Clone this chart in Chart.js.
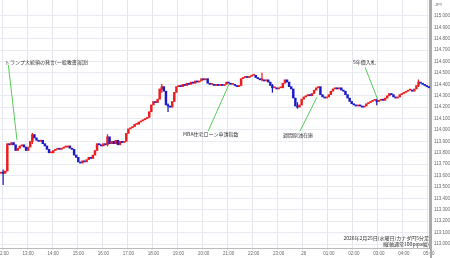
<!DOCTYPE html>
<html lang="ja">
<head>
<meta charset="UTF-8">
<title>カナダ円5分足</title>
<script src="https://cdn.jsdelivr.net/npm/chart.js"></script>
<style>
  body { margin: 0; background: #fff; }
  #wrap { width: 450px; height: 258px; }
</style>
</head>
<body>
<div id="wrap"><canvas id="chart" width="450" height="258"></canvas></div>
<script>
// 5分足の終値 (最初の足は11:55、最後は05:00)
const startMinute = 11 * 60 + 55;
const firstOpen = 113.62;
const closes = [
  113.63,
  113.62, 113.64, 113.88, 113.87, 113.89, 113.87, 113.82, 113.84, 113.86, 113.87, 113.85, 113.82,
  113.85, 113.90, 113.96, 113.93, 113.91, 113.90, 113.91, 113.88, 113.86, 113.83, 113.80, 113.80,
  113.82, 113.83, 113.84, 113.83, 113.84, 113.85, 113.85, 113.86, 113.84, 113.83, 113.78, 113.76,
  113.72, 113.71, 113.73, 113.72, 113.74, 113.76, 113.75, 113.78, 113.82, 113.88, 113.87, 113.86,
  113.88, 113.87, 113.94, 113.88, 113.90, 113.88, 113.91, 113.87, 113.90, 113.89, 113.90, 113.97,
  114.01, 114.02, 114.03, 114.05, 114.05, 114.07, 114.08, 114.09, 114.10, 114.11, 114.16, 114.22,
  114.25, 114.24, 114.27, 114.36, 114.38, 114.34, 114.22, 114.21, 114.20, 114.25, 114.33, 114.38,
  114.39, 114.38, 114.40, 114.39, 114.41, 114.40, 114.42, 114.41, 114.43, 114.42, 114.43, 114.45,
  114.44, 114.45, 114.41, 114.40, 114.40, 114.39, 114.40, 114.39, 114.40, 114.39, 114.40, 114.42,
  114.41, 114.40, 114.40, 114.39, 114.38, 114.39, 114.45, 114.46, 114.47, 114.46, 114.47, 114.48,
  114.48, 114.46, 114.45, 114.44, 114.44, 114.43, 114.44, 114.42, 114.39, 114.37, 114.37, 114.36,
  114.37, 114.37, 114.41, 114.44, 114.42, 114.38, 114.36, 114.28, 114.21, 114.20, 114.22, 114.27,
  114.29, 114.30, 114.31, 114.30, 114.32, 114.35, 114.37, 114.38, 114.31, 114.29, 114.28, 114.29,
  114.31, 114.34, 114.36, 114.37, 114.36, 114.37, 114.35, 114.34, 114.31, 114.28, 114.25, 114.23,
  114.22, 114.21, 114.22, 114.21, 114.20, 114.21, 114.23, 114.24, 114.25, 114.26, 114.26, 114.25,
  114.26, 114.27, 114.26, 114.28, 114.30, 114.32, 114.31, 114.29, 114.28, 114.29, 114.31, 114.32,
  114.33, 114.34, 114.35, 114.35, 114.34, 114.36, 114.39, 114.42, 114.41, 114.40, 114.39, 114.38,
  114.37
];
// ヒゲが見える足: [足の番号, 安値, 高値]
const wicks = [
  [1, 113.52, 113.65], [15, 113.88, 113.97], [51, 113.86, 113.96], [77, 114.33, 114.40],
  [80, 114.16, 114.23], [125, 114.43, 114.50], [130, 114.33, 114.40], [142, 114.19, 114.24],
  [180, 114.22, 114.27], [200, 114.38, 114.44]
];
const hourLabels = ['12:00', '13:00', '14:00', '15:00', '16:00', '17:00', '18:00', '19:00', '20:00',
  '21:00', '22:00', '23:00', '26', '01:00', '02:00', '03:00', '04:00', '05:00'];
const priceTicks = [113.0, 113.1, 113.2, 113.3, 113.4, 113.5, 113.6, 113.7, 113.8, 113.9, 114.0,
  114.1, 114.2, 114.3, 114.4, 114.5, 114.6, 114.7, 114.8, 114.9, 115.0];
// 指標コメント: 文字位置と引き出し線 (足の番号, 価格)
const notes = [
  { text: 'トランプ大統領の発言(一般教書演説)', tx: 1.9, ty: 114.596, x1: 3.5, y1: 114.57, x2: 7.65, y2: 113.91 },
  { text: 'MBA住宅ローン申請指数', tx: 87.2, ty: 113.965, x1: 99.2, y1: 113.99, x2: 109.2, y2: 114.40 },
  { text: '週間原油在庫', tx: 135.1, ty: 113.956, x1: 143.2, y1: 113.99, x2: 151.4, y2: 114.29 },
  { text: '5年債入札', tx: 168.6, ty: 114.596, x1: 174.4, y1: 114.55, x2: 180.6, y2: 114.26 }
];
const footer = ['2026年2月25日(水曜日)カナダ円5分足', '(縦軸通常100pips幅)'];

const labels = closes.map((_, i) => {
  const m = (startMinute + i * 5) % 1440;
  return String(Math.floor(m / 60)).padStart(2, '0') + ':' + String(m % 60).padStart(2, '0');
});
const opens = closes.map((c, i) => i === 0 ? firstOpen : closes[i - 1]);
const bodies = closes.map((c, i) => [opens[i], c]);
const wickData = closes.map(() => null);
wicks.forEach(w => { wickData[w[0]] = [w[1], w[2]]; });

const UP = '#ee1c1c', DOWN = '#1a1ac8';
const candleColor = ctx => closes[ctx.dataIndex] >= opens[ctx.dataIndex] ? UP : DOWN;
const isHour = i => (i - 1) % 12 === 0;
const jp = '"Noto Sans CJK JP", sans-serif';

const overlay = {
  id: 'overlay',
  afterDatasetsDraw(chart) {
    const { ctx, chartArea } = chart;
    const x = chart.scales.x, y = chart.scales.y;
    ctx.save();
    // 右軸の線を下端まで
    ctx.strokeStyle = '#aaaaaa';
    ctx.lineWidth = 2;
    ctx.beginPath();
    ctx.moveTo(chartArea.right + 1, 0);
    ctx.lineTo(chartArea.right + 1, chart.height);
    ctx.stroke();

    ctx.strokeStyle = '#55cc55';
    ctx.lineWidth = 1;
    ctx.fillStyle = '#333';
    ctx.font = '5px ' + jp;
    ctx.textBaseline = 'middle';
    notes.forEach(n => {
      ctx.beginPath();
      ctx.moveTo(x.getPixelForValue(n.x1), y.getPixelForValue(n.y1));
      ctx.lineTo(x.getPixelForValue(n.x2), y.getPixelForValue(n.y2));
      ctx.stroke();
      ctx.fillText(n.text, x.getPixelForValue(n.tx), y.getPixelForValue(n.ty));
    });

    ctx.textAlign = 'right';
    ctx.fillText(footer[0], chartArea.right - 1, chartArea.bottom - 10);
    ctx.fillText(footer[1], chartArea.right - 1, chartArea.bottom - 4);

    ctx.textAlign = 'left';
    ctx.fillStyle = '#666';
    ctx.font = '4px "Liberation Sans", sans-serif';
    ctx.fillText('JPY', chartArea.right + 5, 5);
    ctx.restore();
  }
};

new Chart(document.getElementById('chart'), {
  type: 'bar',
  data: {
    labels: labels,
    datasets: [
      { data: bodies, backgroundColor: candleColor, barThickness: 1.8, minBarLength: 1, grouped: false, order: 0 },
      { data: wickData, backgroundColor: candleColor, barThickness: 0.6, grouped: false, order: 1 }
    ]
  },
  options: {
    responsive: false,
    animation: false,
    layout: { padding: 0 },
    plugins: { legend: { display: false }, tooltip: { enabled: false } },
    scales: {
      x: {
        grid: {
          color: ctx => isHour(ctx.index) ? '#e3e6ec' : 'rgba(0,0,0,0)',
          tickLength: 2
        },
        border: { color: '#bbbbbb', width: 1 },
        ticks: {
          autoSkip: false, maxRotation: 0, minRotation: 0, padding: 1,
          color: '#666', font: { size: 4.5, family: '"Liberation Sans", sans-serif' },
          callback: (v, i) => isHour(i) ? hourLabels[(i - 1) / 12] : ''
        },
        afterFit: axis => { axis.height = 10; axis.paddingLeft = 0; axis.paddingRight = 0; }
      },
      y: {
        position: 'right',
        min: 112.965,
        max: 115.14,
        grid: { color: '#e8ebf1', drawTicks: false },
        border: { color: '#aaaaaa', width: 2 },
        ticks: {
          padding: 4, color: '#666',
          font: { size: 4.5, family: '"Liberation Sans", sans-serif' },
          callback: v => v.toFixed(3)
        },
        afterBuildTicks: axis => { axis.ticks = priceTicks.map(v => ({ value: v })); },
        afterFit: axis => { axis.width = 20; axis.paddingTop = 0; axis.paddingBottom = 0; }
      }
    }
  },
  plugins: [overlay]
});
</script>
</body>
</html>
